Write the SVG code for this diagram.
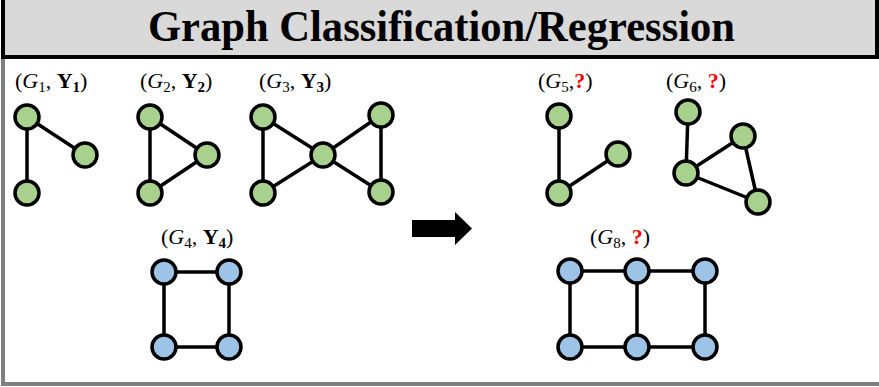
<svg xmlns="http://www.w3.org/2000/svg" width="879" height="387" viewBox="0 0 879 387">
<style>
.g{fill:#a9d18e;stroke:#000;stroke-width:3.5}
.b{fill:#9dc3e6;stroke:#000;stroke-width:3.5}
.e{stroke:#000;stroke-width:3.5;fill:none}
.lbl{font-family:"Liberation Serif","DejaVu Serif",serif;font-size:22px;fill:#000}
.it{font-style:italic}
.bd{font-weight:bold}
.q{font-weight:bold;fill:#ff0000}
</style>
<rect x="0" y="0" width="879" height="387" fill="#fff"/>
<g id="frame">
<line x1="3" y1="57" x2="3" y2="386" stroke="#7f7f7f" stroke-width="4"/>
<line x1="1" y1="384" x2="879" y2="384" stroke="#7f7f7f" stroke-width="4"/>
</g>
<g id="title">
<rect x="3" y="-3" width="874" height="60" fill="#d9d9d9" stroke="#000" stroke-width="4"/>
<text x="148" y="41" font-family="Liberation Serif,serif" font-weight="bold" font-size="44" textLength="587" lengthAdjust="spacingAndGlyphs">Graph Classification/Regression</text>
</g>
<g id="connectors">
<line class="e" x1="27" y1="117" x2="27" y2="193"/>
<line class="e" x1="27" y1="117" x2="85" y2="155"/>
<line class="e" x1="150" y1="117" x2="150" y2="193"/>
<line class="e" x1="150" y1="117" x2="207" y2="155"/>
<line class="e" x1="150" y1="193" x2="207" y2="155"/>
<line class="e" x1="263" y1="117" x2="263" y2="193"/>
<line class="e" x1="263" y1="117" x2="323" y2="155"/>
<line class="e" x1="263" y1="193" x2="323" y2="155"/>
<line class="e" x1="381" y1="115" x2="323" y2="155"/>
<line class="e" x1="381" y1="192" x2="323" y2="155"/>
<line class="e" x1="381" y1="115" x2="381" y2="192"/>
<line class="e" x1="164" y1="272" x2="229" y2="272"/>
<line class="e" x1="164" y1="347" x2="229" y2="347"/>
<line class="e" x1="164" y1="272" x2="164" y2="347"/>
<line class="e" x1="229" y1="272" x2="229" y2="347"/>
<line class="e" x1="559" y1="116" x2="559" y2="193"/>
<line class="e" x1="559" y1="193" x2="618" y2="154"/>
<line class="e" x1="688" y1="112" x2="686" y2="173"/>
<line class="e" x1="686" y1="173" x2="743" y2="136"/>
<line class="e" x1="686" y1="173" x2="758" y2="202"/>
<line class="e" x1="743" y1="136" x2="758" y2="202"/>
<line class="e" x1="570" y1="271" x2="705" y2="271"/>
<line class="e" x1="570" y1="347" x2="705" y2="347"/>
<line class="e" x1="570" y1="271" x2="570" y2="347"/>
<line class="e" x1="637" y1="271" x2="637" y2="347"/>
<line class="e" x1="705" y1="271" x2="705" y2="347"/>
<polygon points="412,220 455,220 455,212 472,228.5 455,245 455,237 412,237" fill="#000"/>
</g>
<g id="G1">
<text class="lbl" x="15" y="88">(<tspan class="it">G</tspan><tspan font-size="15" dy="4">1</tspan><tspan dy="-4">, </tspan><tspan class="bd">Y</tspan><tspan font-size="15" class="bd" dy="4">1</tspan><tspan dy="-4">)</tspan></text>
<circle class="g" cx="27" cy="117" r="12"/><circle class="g" cx="85" cy="155" r="12"/><circle class="g" cx="27" cy="193" r="12"/>
</g>
<g id="G2">
<text class="lbl" x="140" y="88">(<tspan class="it">G</tspan><tspan font-size="15" dy="4">2</tspan><tspan dy="-4">, </tspan><tspan class="bd">Y</tspan><tspan font-size="15" class="bd" dy="4">2</tspan><tspan dy="-4">)</tspan></text>
<circle class="g" cx="150" cy="117" r="12"/><circle class="g" cx="207" cy="155" r="12"/><circle class="g" cx="150" cy="193" r="12"/>
</g>
<g id="G3">
<text class="lbl" x="259" y="88">(<tspan class="it">G</tspan><tspan font-size="15" dy="4">3</tspan><tspan dy="-4">, </tspan><tspan class="bd">Y</tspan><tspan font-size="15" class="bd" dy="4">3</tspan><tspan dy="-4">)</tspan></text>
<circle class="g" cx="263" cy="117" r="12"/><circle class="g" cx="263" cy="193" r="12"/><circle class="g" cx="323" cy="155" r="12"/><circle class="g" cx="381" cy="115" r="12"/><circle class="g" cx="381" cy="192" r="12"/>
</g>
<g id="G4">
<text class="lbl" x="161" y="244">(<tspan class="it">G</tspan><tspan font-size="15" dy="4">4</tspan><tspan dy="-4">, </tspan><tspan class="bd">Y</tspan><tspan font-size="15" class="bd" dy="4">4</tspan><tspan dy="-4">)</tspan></text>
<circle class="b" cx="164" cy="272" r="12"/><circle class="b" cx="229" cy="272" r="12"/><circle class="b" cx="164" cy="347" r="12"/><circle class="b" cx="229" cy="347" r="12"/>
</g>
<g id="G5">
<text class="lbl" x="538" y="88">(<tspan class="it">G</tspan><tspan font-size="15" dy="4">5</tspan><tspan dy="-4">,</tspan><tspan class="q">?</tspan>)</text>
<circle class="g" cx="559" cy="116" r="12"/><circle class="g" cx="559" cy="193" r="12"/><circle class="g" cx="618" cy="154" r="12"/>
</g>
<g id="G6">
<text class="lbl" x="666" y="88">(<tspan class="it">G</tspan><tspan font-size="15" dy="4">6</tspan><tspan dy="-4">, </tspan><tspan class="q">?</tspan>)</text>
<circle class="g" cx="688" cy="112" r="12"/><circle class="g" cx="743" cy="136" r="12"/><circle class="g" cx="686" cy="173" r="12"/><circle class="g" cx="758" cy="202" r="12"/>
</g>
<g id="G8">
<text class="lbl" x="590" y="244">(<tspan class="it">G</tspan><tspan font-size="15" dy="4">8</tspan><tspan dy="-4">, </tspan><tspan class="q">?</tspan>)</text>
<circle class="b" cx="570" cy="271" r="12"/><circle class="b" cx="637" cy="271" r="12"/><circle class="b" cx="705" cy="271" r="12"/><circle class="b" cx="570" cy="347" r="12"/><circle class="b" cx="637" cy="347" r="12"/><circle class="b" cx="705" cy="347" r="12"/>
</g>
</svg>
